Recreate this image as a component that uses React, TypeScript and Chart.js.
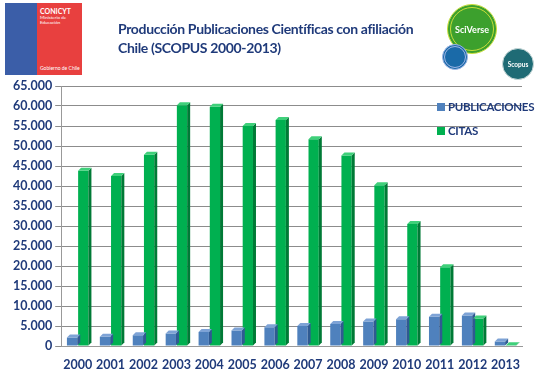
import React, { useEffect, useRef } from "react";
import { Chart, registerables } from "chart.js";

Chart.register(...registerables);

const years = ["2000","2001","2002","2003","2004","2005","2006","2007","2008","2009","2010","2011","2012","2013"];
const publicaciones = [2100, 2300, 2700, 3100, 3500, 3900, 4700, 5000, 5500, 6100, 6700, 7300, 7600, 1100];
const citas = [43800, 42500, 47800, 60200, 59800, 55000, 56500, 51700, 47600, 40200, 30500, 19700, 6900, 200];
const yTicks = [0, 5000, 10000, 15000, 20000, 25000, 30000, 35000, 40000, 45000, 50000, 55000, 60000, 65000];

const NAVY = "#1f3a7a";
const FONT = "Lato, 'Open Sans', sans-serif";

const sideColors = ["#2f5a92", "#007a36"];
const topColors = ["#7ea3d6", "#3fd07a"];

const bar3d = {
  id: "bar3d",
  afterDatasetsDraw(chart: any) {
    const ctx = chart.ctx;
    const d = 3;
    ctx.save();
    chart.data.datasets.forEach((ds: any, di: number) => {
      const meta = chart.getDatasetMeta(di);
      meta.data.forEach((el: any) => {
        const p = el.getProps(["x", "y", "base", "width"], true);
        const l = p.x - p.width / 2;
        const r = p.x + p.width / 2;
        ctx.fillStyle = sideColors[di];
        ctx.beginPath();
        ctx.moveTo(r, p.y);
        ctx.lineTo(r + d, p.y - d);
        ctx.lineTo(r + d, p.base - d);
        ctx.lineTo(r, p.base);
        ctx.closePath();
        ctx.fill();
        ctx.fillStyle = topColors[di];
        ctx.beginPath();
        ctx.moveTo(l, p.y);
        ctx.lineTo(l + d, p.y - d);
        ctx.lineTo(r + d, p.y - d);
        ctx.lineTo(r, p.y);
        ctx.closePath();
        ctx.fill();
      });
    });
    ctx.restore();
  },
};

function fmt(v: number) {
  return String(v).replace(/\B(?=(\d{3})+(?!\d))/g, ".");
}

export default function App() {
  const ref = useRef<HTMLCanvasElement>(null);
  useEffect(() => {
    if (!ref.current) return;
    const chart = new Chart(ref.current, {
      type: "bar",
      data: {
        labels: years,
        datasets: [
          { label: "PUBLICACIONES", data: publicaciones, backgroundColor: "#4f81bd", categoryPercentage: 0.68, barPercentage: 0.92 },
          { label: "CITAS", data: citas, backgroundColor: "#00b050", categoryPercentage: 0.68, barPercentage: 0.92 },
        ],
      },
      options: {
        animation: false,
        responsive: false,
        maintainAspectRatio: false,
        layout: { padding: { top: 86, right: 28, left: 10, bottom: 5 } },
        plugins: { legend: { display: false }, tooltip: { enabled: false } },
        scales: {
          x: {
            grid: { display: false },
            border: { color: "#999" },
            ticks: { color: NAVY, font: { family: FONT, size: 12.5, weight: "bold" }, maxRotation: 0, minRotation: 0, autoSkip: false },
          },
          y: {
            min: 0,
            max: 65000,
            afterBuildTicks: (axis: any) => { axis.ticks = yTicks.map((v) => ({ value: v })); },
            grid: { color: "#8c8c8c", tickLength: 6 },
            border: { color: "#999" },
            ticks: { color: NAVY, font: { family: FONT, size: 12.5, weight: "bold" }, callback: (v: any) => fmt(Number(v)) },
          },
        },
      },
      plugins: [bar3d],
    });
    return () => chart.destroy();
  }, []);

  const circle = (cx: number, cy: number, r: number, bg: string, border: string): React.CSSProperties => ({
    position: "absolute", left: cx - r, top: cy - r, width: r * 2, height: r * 2, borderRadius: "50%",
    background: bg, boxSizing: "border-box", border, display: "flex", alignItems: "center", justifyContent: "center",
  });

  return (
    <div style={{ position: "absolute", left: 0, top: 0, width: 550, height: 380, background: "#fff", overflow: "hidden", fontFamily: FONT }}>
      <canvas ref={ref} width={550} height={380} style={{ position: "absolute", left: 0, top: 0 }} />
      {/* CONICYT logo */}
      <div style={{ position: "absolute", left: 5, top: 3, width: 32, height: 72, background: "#3b5ea8" }} />
      <div style={{ position: "absolute", left: 37, top: 3, width: 45, height: 72, background: "#e8403f", color: "#fff" }}>
        <div style={{ fontSize: 7, fontWeight: "bold", marginLeft: 3, marginTop: 4, lineHeight: "8px" }}>CONICYT</div>
        <div style={{ fontSize: 4.5, marginLeft: 3, lineHeight: "5px" }}>Ministerio de<br />Educación</div>
        <div style={{ position: "absolute", bottom: 4, left: 3, fontSize: 5, lineHeight: "6px" }}>Gobierno de Chile</div>
      </div>
      {/* Title */}
      <div style={{ position: "absolute", left: 118, top: 19, color: NAVY, fontWeight: "bold", fontSize: 14, lineHeight: "19px", letterSpacing: -0.35, whiteSpace: "nowrap" }}>
        Producción Publicaciones Científicas con afiliación<br />Chile (SCOPUS 2000-2013)
      </div>
      {/* SciVerse logos */}
      <div style={circle(472, 29, 25, "#3ca02d", "4px double #c7dc3a")}>
        <span style={{ color: "#fff", fontSize: 9, fontWeight: "bold" }}>SciVerse</span>
      </div>
      <div style={circle(455, 57, 13, "#1a6aa8", "3px double #9fb6e6")} />
      <div style={circle(518, 64, 16, "#1f6b75", "1px solid #c8d8d8")}>
        <span style={{ color: "#fff", fontSize: 6.5, fontWeight: "bold" }}>Scopus</span>
      </div>
      {/* Legend */}
      <div style={{ position: "absolute", left: 437, top: 100, color: NAVY, fontWeight: "bold", fontSize: 11.5, letterSpacing: -0.3, lineHeight: "14px" }}>
        <div style={{ display: "flex", alignItems: "center" }}>
          <span style={{ width: 8, height: 8, background: "#4f81bd", marginRight: 3 }} />PUBLICACIONES
        </div>
        <div style={{ display: "flex", alignItems: "center", marginTop: 10 }}>
          <span style={{ width: 8, height: 8, background: "#00b050", marginRight: 3 }} />CITAS
        </div>
      </div>
    </div>
  );
}
